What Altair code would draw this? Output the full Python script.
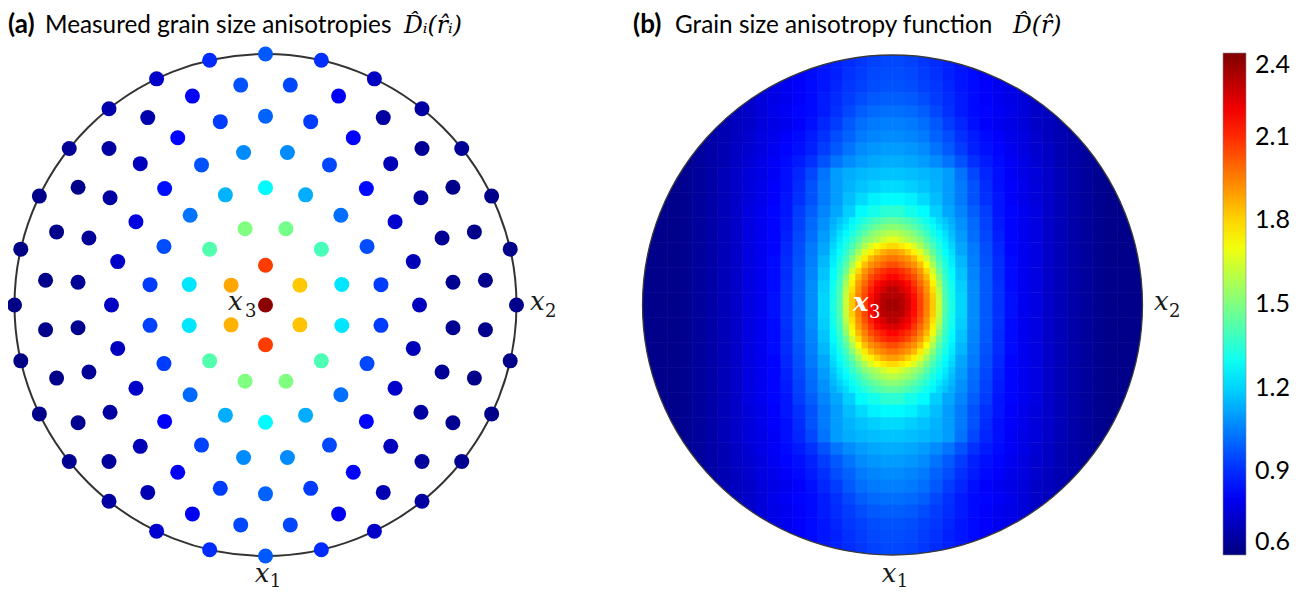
import altair as alt
import numpy as np
import pandas as pd

# ---------------- data ----------------
# Panel (a): measured values on equal-area rings (ring k at polar angle k*90/7 deg),
# listed clockwise from the top of the disc.
ring0 = [2.38]
ring1 = [2.07, 1.82, 1.83, 2.07, 1.86, 1.88]
ring2 = [1.48, 1.40, 1.23, 1.23, 1.41, 1.50, 1.50, 1.42, 1.23, 1.23, 1.42, 1.50]
ring3 = [1.27, 1.13, 1.02, 0.96, 0.93, 0.93, 0.95, 1.02, 1.13,
         1.27, 1.13, 1.01, 0.93, 0.94, 0.93, 0.96, 1.03, 1.14]
ring4 = [1.07, 0.95, 0.84, 0.74, 0.70, 0.71, 0.70, 0.73, 0.83, 0.95, 1.07,
         1.07, 0.94, 0.82, 0.73, 0.71, 0.72, 0.73, 0.77, 0.85, 0.97, 1.07]
ring5 = [1.00, 0.93, 0.82, 0.70, 0.66, 0.64, 0.63, 0.63, 0.64, 0.66, 0.71, 0.82, 0.93,
         1.00, 0.93, 0.81, 0.70, 0.66, 0.64, 0.63, 0.64, 0.64, 0.66, 0.71, 0.83, 0.93]
ring6 = [0.95, 0.81, 0.66, 0.64, 0.62, 0.62, 0.62, 0.62, 0.62, 0.63, 0.65, 0.69, 0.80, 0.95,
         0.95, 0.80, 0.69, 0.65, 0.63, 0.62, 0.62, 0.62, 0.62, 0.62, 0.66, 0.68, 0.81, 0.97]
ring7 = [0.98, 0.91, 0.72, 0.66, 0.64, 0.62, 0.62, 0.62, 0.62, 0.62, 0.63, 0.66, 0.73, 0.90,
         0.98, 0.90, 0.74, 0.66, 0.63, 0.62, 0.61, 0.61, 0.61, 0.62, 0.64, 0.68, 0.73, 0.90]
rings = [ring0, ring1, ring2, ring3, ring4, ring5, ring6, ring7]

# Panel (b): function values read on a 0.05 grid, one quadrant (rows: distance from the
# centre upwards, columns: distance from the centre sideways); the map is mirror-symmetric.
field_q = [
    [2.32, 2.20, 2.00, 1.73, 1.36, 1.20, 1.07, 0.98, 0.91, 0.85, 0.80, 0.77, 0.73, 0.70, 0.67, 0.65, 0.63, 0.62, 0.62, 0.62],
    [2.25, 2.14, 1.96, 1.68, 1.35, 1.19, 1.07, 0.98, 0.91, 0.84, 0.80, 0.77, 0.73, 0.70, 0.67, 0.65, 0.63, 0.62, 0.62, 0.62],
    [2.13, 2.05, 1.88, 1.58, 1.32, 1.17, 1.06, 0.98, 0.90, 0.84, 0.80, 0.77, 0.73, 0.70, 0.67, 0.65, 0.63, 0.62, 0.62, 0.62],
    [1.99, 1.92, 1.74, 1.47, 1.28, 1.15, 1.05, 0.97, 0.90, 0.84, 0.80, 0.77, 0.73, 0.70, 0.67, 0.65, 0.63, 0.62, 0.62, 0.62],
    [1.82, 1.74, 1.57, 1.38, 1.24, 1.12, 1.04, 0.96, 0.89, 0.83, 0.80, 0.77, 0.73, 0.70, 0.67, 0.65, 0.63, 0.62, 0.62, 0.62],
    [1.62, 1.54, 1.44, 1.31, 1.20, 1.10, 1.02, 0.95, 0.88, 0.83, 0.80, 0.77, 0.73, 0.70, 0.67, 0.65, 0.63, 0.62, 0.62, 0.62],
    [1.47, 1.42, 1.34, 1.25, 1.16, 1.08, 1.01, 0.94, 0.87, 0.83, 0.80, 0.77, 0.73, 0.70, 0.67, 0.65, 0.63, 0.62, 0.62, 0.62],
    [1.35, 1.31, 1.27, 1.19, 1.12, 1.06, 0.99, 0.93, 0.86, 0.83, 0.80, 0.77, 0.73, 0.70, 0.67, 0.65, 0.63, 0.62, 0.62, 0.62],
    [1.27, 1.25, 1.21, 1.16, 1.10, 1.04, 0.97, 0.91, 0.86, 0.82, 0.79, 0.76, 0.73, 0.70, 0.67, 0.65, 0.63, 0.62, 0.62, 0.62],
    [1.21, 1.19, 1.17, 1.14, 1.10, 1.04, 0.97, 0.90, 0.85, 0.82, 0.79, 0.76, 0.73, 0.70, 0.67, 0.65, 0.63, 0.62, 0.62, 0.62],
    [1.17, 1.16, 1.15, 1.13, 1.10, 1.03, 0.95, 0.89, 0.85, 0.81, 0.78, 0.76, 0.73, 0.70, 0.67, 0.65, 0.63, 0.62, 0.62, 0.62],
    [1.13, 1.12, 1.10, 1.07, 1.03, 0.97, 0.91, 0.87, 0.84, 0.81, 0.78, 0.75, 0.72, 0.69, 0.67, 0.65, 0.63, 0.62, 0.62, 0.62],
    [1.10, 1.09, 1.07, 1.03, 0.98, 0.93, 0.88, 0.85, 0.83, 0.80, 0.77, 0.74, 0.72, 0.69, 0.67, 0.65, 0.63, 0.62, 0.62, 0.62],
    [1.07, 1.06, 1.04, 1.00, 0.96, 0.91, 0.87, 0.84, 0.82, 0.79, 0.77, 0.74, 0.71, 0.69, 0.67, 0.65, 0.63, 0.62, 0.62, 0.62],
    [1.05, 1.04, 1.02, 0.98, 0.93, 0.89, 0.85, 0.82, 0.80, 0.78, 0.76, 0.73, 0.71, 0.69, 0.67, 0.65, 0.63, 0.62, 0.62, 0.62],
    [1.02, 1.01, 0.99, 0.95, 0.91, 0.87, 0.84, 0.83, 0.81, 0.79, 0.76, 0.73, 0.71, 0.69, 0.67, 0.65, 0.63, 0.62, 0.62, 0.62],
    [0.99, 0.98, 0.96, 0.93, 0.90, 0.87, 0.84, 0.82, 0.80, 0.78, 0.76, 0.73, 0.71, 0.69, 0.67, 0.65, 0.63, 0.62, 0.62, 0.62],
    [0.97, 0.96, 0.94, 0.92, 0.89, 0.86, 0.84, 0.82, 0.80, 0.78, 0.76, 0.73, 0.71, 0.69, 0.67, 0.65, 0.63, 0.62, 0.62, 0.62],
    [0.96, 0.95, 0.93, 0.91, 0.88, 0.86, 0.84, 0.82, 0.80, 0.78, 0.76, 0.73, 0.71, 0.69, 0.67, 0.65, 0.63, 0.62, 0.62, 0.62],
    [0.95, 0.94, 0.92, 0.90, 0.88, 0.86, 0.84, 0.82, 0.80, 0.78, 0.76, 0.73, 0.71, 0.69, 0.67, 0.65, 0.63, 0.62, 0.62, 0.62],
]
grid_step = 0.05

# Finer reading (0.025 grid) of the central peak, same quadrant convention,
# covering 0..0.25 sideways and 0..0.35 upwards.
core_q = [
    [2.34, 2.31, 2.25, 2.16, 2.06, 1.95, 1.82, 1.63, 1.42, 1.32],
    [2.31, 2.30, 2.23, 2.15, 2.05, 1.94, 1.81, 1.62, 1.41, 1.31],
    [2.30, 2.25, 2.20, 2.12, 2.03, 1.92, 1.78, 1.60, 1.40, 1.31],
    [2.24, 2.21, 2.16, 2.08, 1.99, 1.90, 1.75, 1.56, 1.39, 1.30],
    [2.17, 2.13, 2.09, 2.04, 1.95, 1.85, 1.70, 1.52, 1.37, 1.28],
    [2.12, 2.09, 2.05, 1.98, 1.91, 1.79, 1.64, 1.47, 1.35, 1.27],
    [2.04, 2.00, 1.96, 1.92, 1.84, 1.72, 1.57, 1.43, 1.33, 1.25],
    [1.97, 1.94, 1.91, 1.85, 1.76, 1.64, 1.51, 1.39, 1.31, 1.24],
    [1.90, 1.87, 1.81, 1.75, 1.67, 1.56, 1.45, 1.36, 1.28, 1.22],
    [1.79, 1.76, 1.73, 1.66, 1.58, 1.49, 1.40, 1.33, 1.26, 1.20],
    [1.68, 1.64, 1.59, 1.55, 1.51, 1.43, 1.36, 1.30, 1.24, 1.18],
    [1.60, 1.57, 1.54, 1.50, 1.44, 1.38, 1.32, 1.27, 1.22, 1.16],
    [1.52, 1.50, 1.47, 1.43, 1.39, 1.34, 1.29, 1.24, 1.19, 1.15],
    [1.45, 1.43, 1.41, 1.38, 1.34, 1.30, 1.26, 1.21, 1.17, 1.13],
]
core_step = 0.025

cbar_ticks = [0.6, 0.9, 1.2, 1.5, 1.8, 2.1, 2.4]
jet_domain = [0.6, 0.825, 1.275, 1.725, 2.175, 2.4]
jet_colors = ["#000080", "#0000ff", "#00ffff", "#ffff00", "#ff0000", "#800000"]

# ---------------- layout ----------------
W, H = 1293, 588
CA, RA = (257.5, 297.0), 251.0   # panel (a) disc centre / radius (px)
CB, RB = (884.5, 297.0), 250.0   # panel (b)

# points of panel (a): equal-area projection of ring polar angle
pts = []
for k, vals in enumerate(rings):
    n = len(vals)
    r = np.sqrt(2.0) * np.sin(np.radians(k * 90.0 / 7.0) / 2.0)
    off = 180.0 / n if (k % 2 == 0 and k > 0) else 0.0
    for m, v in enumerate(vals):
        az = np.radians(off + m * 360.0 / n)
        pts.append(dict(X=CA[0] + RA * r * np.sin(az), Y=CA[1] - RA * r * np.cos(az), val=v))
pts = pd.DataFrame(pts)

core_u_max = len(core_q[0]) * core_step
core_v_max = len(core_q) * core_step


def add_cells(out, table, step, skip_core):
    h = step / 2
    for j, row in enumerate(table):
        v = (j + 0.5) * step
        for i, val in enumerate(row):
            u = (i + 0.5) * step
            if skip_core and u < core_u_max and v < core_v_max:
                continue
            for su in (-1, 1):
                for sv in (-1, 1):
                    uu, vv = su * u, sv * v
                    if np.hypot(uu, vv) > 1 + 0.75 * step:
                        continue
                    out.append(dict(X=CB[0] + RB * (uu - h) - 0.3, X2=CB[0] + RB * (uu + h) + 0.3,
                                    Y=CB[1] - RB * (vv + h) - 0.3, Y2=CB[1] - RB * (vv - h) + 0.3,
                                    val=val))


cells = []
add_cells(cells, field_q, grid_step, True)
add_cells(cells, core_q, core_step, False)
cells = pd.DataFrame(cells)

xs = alt.X("X:Q", scale=alt.Scale(domain=[0, W], nice=False, zero=False), axis=None)
ys = alt.Y("Y:Q", scale=alt.Scale(domain=[0, H], nice=False, zero=False, reverse=True), axis=None)

legend = alt.Legend(orient="none", legendX=1215, legendY=45, direction="vertical",
                    gradientLength=502, gradientThickness=23, values=cbar_ticks, format=".1f",
                    labelFontSize=25, labelFont="Lato", labelColor="black", labelOffset=9,
                    labelBaseline="middle", labelOverlap=False, title=None, padding=0,
                    gradientStrokeColor="#888888", gradientStrokeWidth=0.6)
color = alt.Color("val:Q", scale=alt.Scale(domain=jet_domain, range=jet_colors, interpolate="rgb"),
                  legend=legend)

heat = alt.Chart(cells).mark_rect(strokeWidth=0).encode(
    x=xs, x2="X2:Q", y=ys, y2="Y2:Q", color=color)

centres = pd.DataFrame({"X": [CB[0]], "Y": [CB[1]]})
mask = alt.Chart(centres).mark_point(shape="circle", filled=False, stroke="white", strokeWidth=24,
                                     opacity=1, size=(2 * (RB + 12)) ** 2).encode(x=xs, y=ys)
rim_b = alt.Chart(centres).mark_point(shape="circle", filled=False, stroke="#3a3a3a", strokeWidth=1.3,
                                      opacity=1, size=(2 * RB) ** 2).encode(x=xs, y=ys)
rim_a = alt.Chart(pd.DataFrame({"X": [CA[0]], "Y": [CA[1]]})).mark_point(
    shape="circle", filled=False, stroke="#333333", strokeWidth=2, opacity=1,
    size=(2 * RA) ** 2).encode(x=xs, y=ys)

dots = alt.Chart(pts).mark_circle(size=225, opacity=1).encode(x=xs, y=ys, color=color)


def txt(df, **kw):
    return alt.Chart(pd.DataFrame(df)).mark_text(align="left", baseline="alphabetic", **kw).encode(
        x=xs, y=ys, text="t:N")


TY = 25
titles_bold = txt({"X": [0, 625], "Y": [TY, TY], "t": ["(a)", "(b)"]},
                  font="Lato", fontSize=26, fontWeight="bold", color="black")
titles = txt({"X": [37, 667], "Y": [TY, TY],
              "t": ["Measured grain size anisotropies", "Grain size anisotropy function"]},
             font="Lato", fontSize=24.3, color="black")
titles_math = txt({"X": [396, 1005], "Y": [TY, TY], "t": ["D\u0302\u1d62(r\u0302\u1d62)", "D\u0302(r\u0302)"]},
                  font="DejaVu Serif", fontSize=23.5, fontStyle="italic", color="black")

ax_x = txt({"X": [246.7, 873.7, 522, 1146, 220], "Y": [573.7, 573.7, 302, 302, 302],
            "t": ["x", "x", "x", "x", "x"]},
           font="DejaVu Serif", fontSize=26, fontStyle="italic", color="#1a1a1a")
ax_sub = txt({"X": [261.7, 888.7, 537, 1161, 237], "Y": [579, 579, 309, 309, 309],
              "t": ["1", "1", "2", "2", "3"]},
             font="DejaVu Serif", fontSize=18, color="#1a1a1a")
x3_b = txt({"X": [845], "Y": [303], "t": ["x"]},
           font="DejaVu Serif", fontSize=26, fontStyle="italic", fontWeight="bold", color="white")
x3_b_sub = txt({"X": [861], "Y": [310], "t": ["3"]},
               font="DejaVu Serif", fontSize=18, color="white")

chart = alt.layer(heat, mask, rim_b, rim_a, dots, titles_bold, titles, titles_math,
                  ax_x, ax_sub, x3_b, x3_b_sub).properties(
    width=W, height=H, padding=0, autosize=alt.AutoSizeParams(type="none")
).configure_view(stroke=None)

chart.save("out.html", embed_options={"renderer": "svg", "actions": False})
